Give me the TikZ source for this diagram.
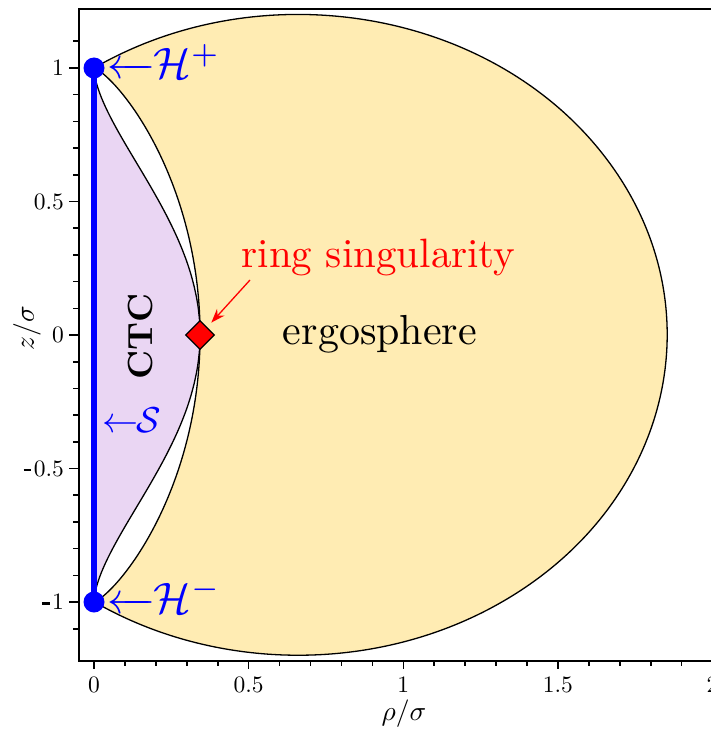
\RequirePackage{fix-cm}
\documentclass[tikz,border=0pt]{standalone}
\usetikzlibrary{shapes.geometric,arrows.meta}
\definecolor{ergofill}{RGB}{255,236,179}
\definecolor{ctcfill}{RGB}{234,214,243}
\newcommand\mminus{\rule[0.2em]{0.33em}{0.12em}\hspace{0.1em}}
\newcommand\sx[2]{\scalebox{#1}{\fontsize{10}{12}\selectfont #2}}
\newcommand\larr{\mathord{\leftarrow}\mkern-12mu\mathord{\relbar}\mkern-1mu}
\begin{document}
\begin{tikzpicture}[x=1pt,y=-1pt,
  axisline/.style={line width=1.6pt},
  bound/.style={line width=1.3pt},
  txt/.style={inner sep=0pt},
  dot/.style={circle, fill=blue, minimum size=21pt, inner sep=0pt},
  ringmark/.style={diamond, fill=red, draw=black, line width=1.2pt, minimum width=29pt, minimum height=29pt, inner sep=0pt}]
\useasboundingbox (0,0) rectangle (711,730);
\fill[white] (0,0) rectangle (711,730);

\begin{scope}[shift={(94,335)},x=309.3pt,y=267pt]
  \fill[ergofill] (0,1) arc[start angle=123.6,end angle=-123.6,x radius=1.193,y radius=1.2]
     -- plot[domain=179.8:0.2,samples=200,variable=\t] ({0.343*pow(sin(\t),1.56)},{cos(\t)}) -- cycle;
  \fill[ctcfill] (0,1) -- plot[domain=0.2:179.8,samples=200,variable=\t] ({0.343*pow(sin(\t),3.4)},{cos(\t)}) -- cycle;
  \draw[bound] (0,1) arc[start angle=123.6,end angle=-123.6,x radius=1.193,y radius=1.2];
  \draw[bound] plot[domain=0.2:179.8,samples=200,variable=\t] ({0.343*pow(sin(\t),1.56)},{cos(\t)});
  \draw[bound] plot[domain=0.2:179.8,samples=200,variable=\t] ({0.343*pow(sin(\t),3.4)},{cos(\t)});
  \coordinate (hpc) at (0,1);
  \coordinate (hmc) at (0,-1);
  \draw[blue, line width=5.5pt] (hpc) -- (hmc);
  \node[dot] (hp) at (hpc) {};
  \node[dot] (hm) at (hmc) {};
  \node[ringmark] (ring) at (0.343,0) {};
\end{scope}

% frame
\draw[axisline] (713,9) -- (79,9) -- (79,661) -- (713,661);
\foreach \k in {0,...,20}{
  \pgfmathsetmacro\xx{94+30.93*\k}
  \pgfmathsetmacro\tl{ifthenelse(mod(\k,5)==0,8,5)}
  \draw[axisline] (\xx,661) -- (\xx,661+\tl);
}
\foreach \k in {-11,...,11}{
  \pgfmathsetmacro\yy{335-26.7*\k}
  \pgfmathsetmacro\tl{ifthenelse(mod(\k,5)==0,10,6)}
  \draw[axisline] (79,\yy) -- (79-\tl,\yy);
}
% tick labels
\node[txt, anchor=base] (x0) at (94,692) {\sx{2.35}{0}};
\node[txt, anchor=base] (x1) at (248.65,692) {\sx{2.35}{0.5}};
\node[txt, anchor=base] (x2) at (403.3,692) {\sx{2.35}{1}};
\node[txt, anchor=base] (x3) at (557.95,692) {\sx{2.35}{1.5}};
\node[txt, anchor=base] (x4) at (712.6,692) {\sx{2.35}{2}};
\node[txt, anchor=east] (y1) at (64,68) {\sx{2.35}{1}};
\node[txt, anchor=east] (y2) at (64,201.5) {\sx{2.35}{0.5}};
\node[txt, anchor=east] (y3) at (64,335) {\sx{2.35}{0}};
\node[txt, anchor=east] (y4) at (64,468.5) {\sx{2.35}{\mminus 0.5}};
\node[txt, anchor=east] (y5) at (64,602) {\sx{2.35}{\mminus 1}};
% axis labels
\node[txt, anchor=base] (xl) at (404,720) {\sx{2.75}{$\rho/\sigma$}};
\node[txt, rotate=90] (yl) at (27,328) {\sx{2.75}{$z/\sigma$}};
% labels
\node[txt, blue, anchor=base west] (hplab) at (107,79) {\sx{4.4}{$\larr\mathcal{H}^+$}};
\node[txt, blue, anchor=base west] (hmlab) at (107,613) {\sx{4.4}{$\larr\mathcal{H}^-$}};
\node[txt, blue, anchor=base west] (slabel) at (102,432) {\sx{3.6}{$\mathord{\leftarrow}\mkern-1mu\mathcal{S}$}};
\node[txt, rotate=90] (ctc) at (140,336) {\sx{3.5}{\bfseries CTC}};
\node[txt, red, anchor=base] (ringlab) at (378.5,267) {\sx{4.1}{ring singularity}};
\node[txt, anchor=base] (ergo) at (380,344) {\sx{4.2}{ergosphere}};
\coordinate (rs) at (250,280);
\draw[red, line width=1.3pt, shorten >=6pt, -{Stealth[length=14pt,width=10pt]}] (rs) -- (ring);
\end{tikzpicture}
\end{document}
